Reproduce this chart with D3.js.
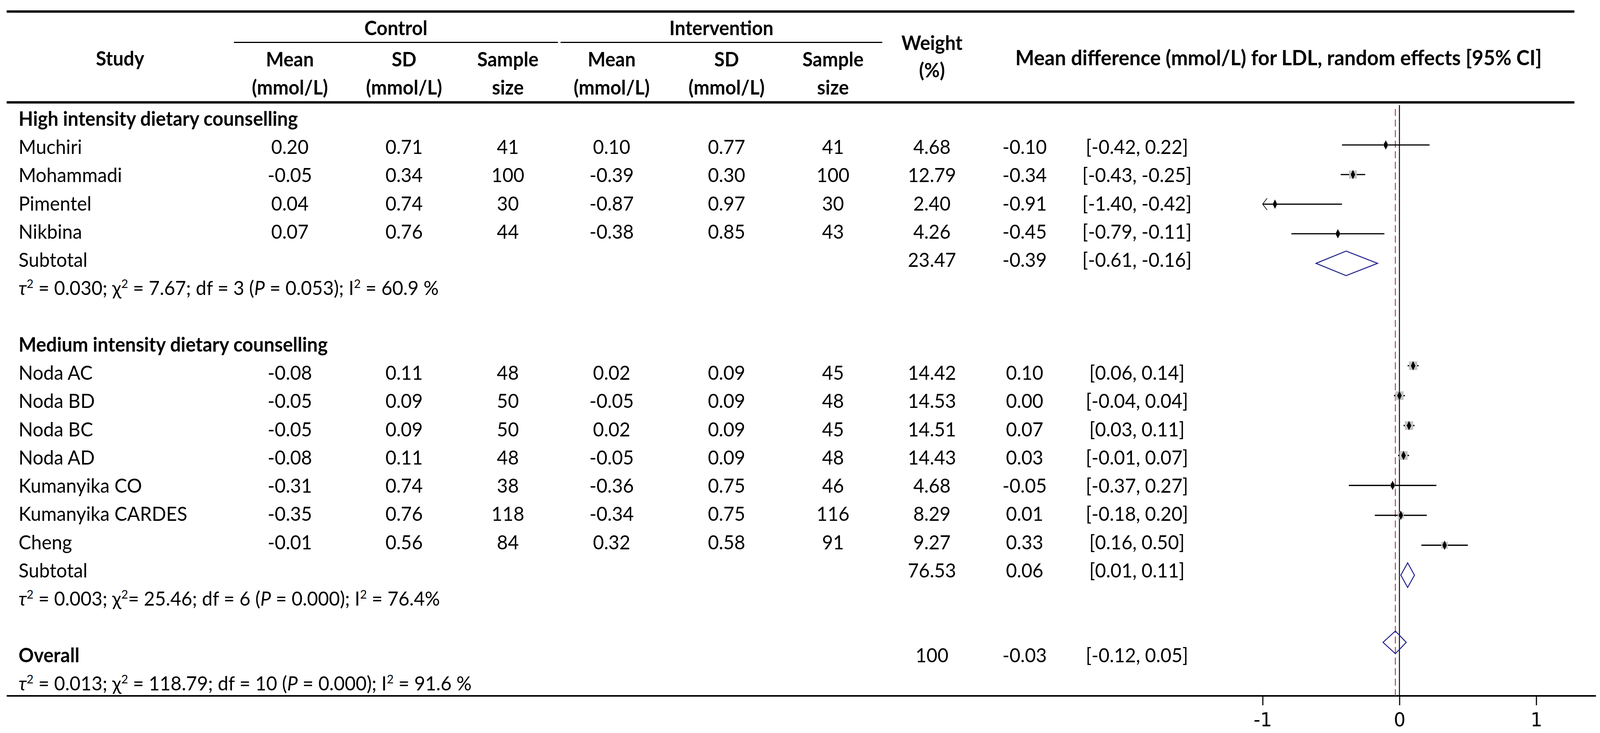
<!DOCTYPE html>
<html><head><meta charset="utf-8">
<script src="https://cdn.jsdelivr.net/npm/d3@7/dist/d3.min.js"></script>
<style>
html,body{margin:0;padding:0;background:#fff;overflow:hidden;width:100%;height:100%;}
svg{display:block;}
</style></head>
<body>
<script>
// ---------- DATA ----------
const studies = ["Muchiri","Mohammadi","Pimentel","Nikbina","Noda AC","Noda BD","Noda BC","Noda AD","Kumanyika CO","Kumanyika CARDES","Cheng"];
const studyGroup = [0,0,0,0,1,1,1,1,1,1,1];
const ctrlMean = [0.20,-0.05,0.04,0.07,-0.08,-0.05,-0.05,-0.08,-0.31,-0.35,-0.01];
const ctrlSD   = [0.71,0.34,0.74,0.76,0.11,0.09,0.09,0.11,0.74,0.76,0.56];
const ctrlN    = [41,100,30,44,48,50,50,48,38,118,84];
const intMean  = [0.10,-0.39,-0.87,-0.38,0.02,-0.05,0.02,-0.05,-0.36,-0.34,0.32];
const intSD    = [0.77,0.30,0.97,0.85,0.09,0.09,0.09,0.09,0.75,0.75,0.58];
const intN     = [41,100,30,43,45,48,45,48,46,116,91];
const weights  = [4.68,12.79,2.40,4.26,14.42,14.53,14.51,14.43,4.68,8.29,9.27];
const meanDiff = [-0.10,-0.34,-0.91,-0.45,0.10,0.00,0.07,0.03,-0.05,0.01,0.33];
const ciLow    = [-0.42,-0.43,-1.40,-0.79,0.06,-0.04,0.03,-0.01,-0.37,-0.18,0.16];
const ciHigh   = [0.22,-0.25,-0.42,-0.11,0.14,0.04,0.11,0.07,0.27,0.20,0.50];

const groupNames = ["High intensity dietary counselling","Medium intensity dietary counselling"];
const pooledLabel  = ["Subtotal","Subtotal","Overall"];
const pooledWeight = ["23.47","76.53","100"];
const pooledMD     = [-0.39,0.06,-0.03];
const pooledLow    = [-0.61,0.01,-0.12];
const pooledHigh   = [-0.16,0.11,0.05];
const hetTau2 = ["0.030","0.003","0.013"];
const hetChi2 = ["7.67","25.46","118.79"];
const hetChiSep = [" = ","= "," = "];
const hetDf   = ["3","6","10"];
const hetP    = ["0.053","0.000","0.000"];
const hetI2   = ["60.9 %","76.4%","91.6 %"];

const axisTicks = [-1,0,1];
const colHead1 = ["Mean","SD","Sample","Mean","SD","Sample"];
const colHead2 = ["(mmol/L)","(mmol/L)","size","(mmol/L)","(mmol/L)","size"];
const plotTitle = "Mean difference (mmol/L) for LDL, random effects [95% CI]";

// ---------- LAYOUT ----------
const W = 4316, H = 1876;
const FONT = "Lato, 'Open Sans', sans-serif";
const FS = 51;
const colX = [782,1090,1370,1650,1960,2247];
const weightX = 2514, mdX = 2764, ciX = 3067, labelX = 50;

// row index layout: 0 high header,1-4 studies,5 subtotal,6 het,8 medium header,9-15 studies,16 subtotal,17 het,19 overall,20 het
const studyRow = studies.map((d,i)=> studyGroup[i]===0 ? 1+i : 9+(i-4));
const headerRow = [0,8];
const pooledRow = [5,16,19];
const hetRow = [6,17,20];

const yText = d3.scaleLinear().domain([0,20]).range([322,1767]);
const yPlot = d3.scaleLinear().domain([1,5,9,16,19]).range([371,674,936,1472,1644]);
const x = d3.scaleLinear().domain([-1,1]).range([3406,4144]);
const xMin = -1;

const fmt = d3.format(".2f");
const f2 = v => fmt(v).replace("−","-");

const svg = d3.select("body").append("svg")
  .attr("viewBox",`0 0 ${W} ${H}`)
  .attr("preserveAspectRatio","none")
  .style("width","100vw").style("height","100vh")
  .style("font-family",FONT).style("font-size",FS+"px");

svg.append("rect").attr("width",W).attr("height",H).attr("fill","#fff");

// ---------- TABLE RULES ----------
const rules = svg.append("g").attr("stroke","#000");
rules.append("line").attr("x1",18).attr("x2",4247).attr("y1",29.5).attr("y2",29.5).attr("stroke-width",6);
rules.append("line").attr("x1",18).attr("x2",4247).attr("y1",262).attr("y2",262).attr("stroke-width",6);
rules.append("line").attr("x1",631).attr("x2",1505).attr("y1",108.5).attr("y2",108.5).attr("stroke-width",3);
rules.append("line").attr("x1",1512).attr("x2",2380).attr("y1",108.5).attr("y2",108.5).attr("stroke-width",3);
rules.append("line").attr("x1",18).attr("x2",4305).attr("y1",1781).attr("y2",1781).attr("stroke-width",4);

// ---------- HEADER ----------
const hdr = svg.append("g").attr("font-weight","bold").attr("text-anchor","middle").attr("fill","#000");
hdr.append("text").attr("x",1068).attr("y",90).text("Control");
hdr.append("text").attr("x",1946).attr("y",90).text("Intervention");
hdr.append("text").attr("x",324).attr("y",168).text("Study");
colHead1.forEach((t,i)=>hdr.append("text").attr("x",colX[i]).attr("y",170).text(t));
colHead2.forEach((t,i)=>hdr.append("text").attr("x",colX[i]).attr("y",242).text(t));
hdr.append("text").attr("x",weightX).attr("y",128).text("Weight");
hdr.append("text").attr("x",weightX).attr("y",198).text("(%)");
hdr.append("text").attr("x",3449).attr("y",167).attr("font-size",54).text(plotTitle);

// ---------- BODY TEXT ----------
const body = svg.append("g").attr("fill","#000");
groupNames.forEach((g,i)=>body.append("text").attr("x",labelX).attr("y",yText(headerRow[i])).attr("font-weight","bold").text(g));

studies.forEach((s,i)=>{
  const y = yText(studyRow[i]);
  body.append("text").attr("x",labelX).attr("y",y).text(s);
  const vals = [f2(ctrlMean[i]),f2(ctrlSD[i]),ctrlN[i],f2(intMean[i]),f2(intSD[i]),intN[i]];
  vals.forEach((v,j)=>body.append("text").attr("x",colX[j]).attr("y",y).attr("text-anchor","middle").text(v));
  body.append("text").attr("x",weightX).attr("y",y).attr("text-anchor","middle").text(f2(weights[i]));
  body.append("text").attr("x",mdX).attr("y",y).attr("text-anchor","middle").text(f2(meanDiff[i]));
  body.append("text").attr("x",ciX).attr("y",y).attr("text-anchor","middle").text(`[${f2(ciLow[i])}, ${f2(ciHigh[i])}]`);
});

pooledLabel.forEach((lab,k)=>{
  const y = yText(pooledRow[k]);
  body.append("text").attr("x",labelX).attr("y",y).attr("font-weight",k===2?"bold":null).text(lab);
  body.append("text").attr("x",weightX).attr("y",y).attr("text-anchor","middle").text(pooledWeight[k]);
  body.append("text").attr("x",mdX).attr("y",y).attr("text-anchor","middle").text(f2(pooledMD[k]));
  body.append("text").attr("x",ciX).attr("y",y).attr("text-anchor","middle").text(`[${f2(pooledLow[k])}, ${f2(pooledHigh[k])}]`);
});

hetTau2.forEach((t,k)=>{
  const tx = body.append("text").attr("x",labelX).attr("y",yText(hetRow[k]));
  const sup = s => tx.append("tspan").attr("font-size",FS*0.62).attr("baseline-shift","super").text(s);
  tx.append("tspan").attr("font-style","italic").text("τ");
  sup("2");
  tx.append("tspan").text(` = ${t}; χ`);
  sup("2");
  tx.append("tspan").text(`${hetChiSep[k]}${hetChi2[k]}; df = ${hetDf[k]} (`);
  tx.append("tspan").attr("font-style","italic").text("P");
  tx.append("tspan").text(` = ${hetP[k]}); I`);
  sup("2");
  tx.append("tspan").text(` = ${hetI2[k]}`);
});

// ---------- FOREST PLOT ----------
const plot = svg.append("g");
plot.append("line").attr("x1",x(0)).attr("x2",x(0)).attr("y1",269).attr("y2",1781)
  .attr("stroke","#000").attr("stroke-width",2.5);
plot.append("line").attr("x1",x(pooledMD[2])).attr("x2",x(pooledMD[2])).attr("y1",279).attr("y2",1781)
  .attr("stroke","#b03a48").attr("stroke-width",2.5).attr("stroke-dasharray","18,9");

studies.forEach((s,i)=>{
  const y = yPlot(studyRow[i]);
  const lo = Math.max(ciLow[i], xMin);
  plot.append("line").attr("x1",x(lo)).attr("x2",x(ciHigh[i])).attr("y1",y).attr("y2",y)
    .attr("stroke","#000").attr("stroke-width",3.2);
  if (ciLow[i] < xMin) {
    const ax = x(xMin);
    plot.append("path").attr("d",`M${ax+12},${y-15}L${ax},${y}L${ax+12},${y+15}`)
      .attr("fill","none").attr("stroke","#000").attr("stroke-width",1.8);
  }
  const cx = x(meanDiff[i]);
  const sz = Math.sqrt(weights[i])*5.8;
  plot.append("rect").attr("x",cx-sz/2).attr("y",y-sz/2).attr("width",sz).attr("height",sz)
    .attr("fill","#c4c4c4");
  plot.append("path").attr("d",`M${cx},${y-12}L${cx+6},${y}L${cx},${y+12}L${cx-6},${y}Z`)
    .attr("fill","#000");
});

pooledMD.forEach((m,k)=>{
  const y = yPlot(pooledRow[k]);
  const h = k===2 ? 29 : 31.5;
  plot.append("path")
    .attr("d",`M${x(pooledLow[k])},${y}L${x(m)},${y-h}L${x(pooledHigh[k])},${y}L${x(m)},${y+h}Z`)
    .attr("fill","none").attr("stroke","#23238e").attr("stroke-width",2.5);
});

const axis = d3.axisBottom(x).tickValues(axisTicks).tickFormat(d3.format("d")).tickSize(24).tickPadding(19);
const ag = svg.append("g").attr("transform","translate(0,1781)").call(axis);
ag.select(".domain").remove();
ag.selectAll(".tick line").attr("stroke","#000").attr("stroke-width",3);
ag.selectAll(".tick text").attr("font-family","'DejaVu Sans', sans-serif").attr("font-size",50).attr("fill","#000")
  .text(d => d < 0 ? "-" + Math.abs(d) : d);
</script>
</body></html>
